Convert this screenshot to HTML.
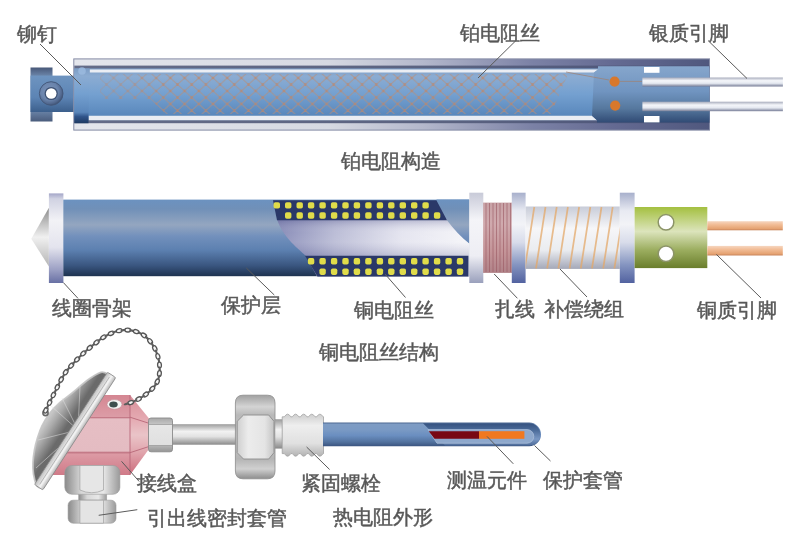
<!DOCTYPE html>
<html><head><meta charset="utf-8">
<style>
html,body{margin:0;padding:0;background:#fff;}
body{width:791px;height:534px;position:relative;overflow:hidden;font-family:"Liberation Serif",serif;}
svg{position:absolute;left:0;top:0;filter:blur(0.45px);}
.t{position:absolute;font-size:20px;line-height:20px;color:#565656;font-weight:normal;-webkit-text-stroke:0.5px #5e5e5e;filter:blur(0.35px);white-space:nowrap;letter-spacing:0;}
</style></head><body>
<svg width="791" height="534" viewBox="0 0 791 534">
<defs>
  <linearGradient id="tOuter" x1="74" y1="0" x2="709" y2="0" gradientUnits="userSpaceOnUse">
    <stop offset="0" stop-color="#e4e6ec"/><stop offset="0.4" stop-color="#d6d9e2"/><stop offset="0.55" stop-color="#b4b8cc"/><stop offset="0.72" stop-color="#7c82a6"/><stop offset="0.85" stop-color="#646a92"/><stop offset="1" stop-color="#50587e"/>
  </linearGradient>
  <linearGradient id="tDark" x1="74" y1="0" x2="709" y2="0" gradientUnits="userSpaceOnUse">
    <stop offset="0" stop-color="#646c88"/><stop offset="0.6" stop-color="#5a6280"/><stop offset="1" stop-color="#4a5278"/>
  </linearGradient>
  <linearGradient id="tBody" x1="0" y1="68.4" x2="0" y2="120.2" gradientUnits="userSpaceOnUse">
    <stop offset="0" stop-color="#7c9cc4"/><stop offset="0.15" stop-color="#8cacd2"/><stop offset="0.5" stop-color="#74a0d0"/><stop offset="0.9" stop-color="#5a88bc"/><stop offset="1" stop-color="#4c74a6"/>
  </linearGradient>
  <linearGradient id="tLeft" x1="0" y1="68.4" x2="0" y2="123.2" gradientUnits="userSpaceOnUse">
    <stop offset="0" stop-color="#7c9cc4"/><stop offset="0.14" stop-color="#8cacd2"/><stop offset="0.46" stop-color="#74a0d0"/><stop offset="0.8" stop-color="#5a86ba"/><stop offset="0.88" stop-color="#30548a"/><stop offset="1" stop-color="#1e3a62"/>
  </linearGradient>
  <linearGradient id="tRight" x1="0" y1="66.2" x2="0" y2="122.6" gradientUnits="userSpaceOnUse">
    <stop offset="0" stop-color="#86a6cc"/><stop offset="0.45" stop-color="#7094c0"/><stop offset="0.75" stop-color="#56789e"/><stop offset="1" stop-color="#304a74"/>
  </linearGradient>
  <linearGradient id="tCap" x1="0" y1="67.5" x2="0" y2="121.5" gradientUnits="userSpaceOnUse">
    <stop offset="0" stop-color="#485878"/><stop offset="0.15" stop-color="#6a84a8"/><stop offset="0.5" stop-color="#6688b4"/><stop offset="0.8" stop-color="#6a84a8"/><stop offset="1" stop-color="#4a5c7c"/>
  </linearGradient>
  <linearGradient id="tShaft" x1="0" y1="0" x2="0" y2="1">
    <stop offset="0" stop-color="#6e94c0"/><stop offset="0.6" stop-color="#5c84b4"/><stop offset="1" stop-color="#3c5f8c"/>
  </linearGradient>
  <radialGradient id="rivet" cx="0.42" cy="0.4" r="0.62">
    <stop offset="0" stop-color="#7a92b8"/><stop offset="0.6" stop-color="#6a84ac"/><stop offset="0.85" stop-color="#52688e"/><stop offset="1" stop-color="#3e5274"/>
  </radialGradient>
  <linearGradient id="wire" x1="0" y1="0" x2="0" y2="1">
    <stop offset="0" stop-color="#a8acbc"/><stop offset="0.35" stop-color="#f4f6fa"/><stop offset="0.65" stop-color="#e4e8f0"/><stop offset="1" stop-color="#767c96"/>
  </linearGradient>
  <pattern id="hatch" width="14.2" height="13" patternUnits="userSpaceOnUse">
    <path d="M-7.1,-6.5 L21.3,19.5 M-7.1,6.5 L7.1,19.5 M7.1,-6.5 L21.3,6.5 M21.3,-6.5 L-7.1,19.5 M7.1,-6.5 L-7.1,6.5 M21.3,6.5 L7.1,19.5" stroke="#b8907c" stroke-width="1.15" stroke-opacity="0.6"/>
    <circle cx="0" cy="0" r="1.4" fill="#c88058" fill-opacity="0.45"/><circle cx="14.2" cy="0" r="1.4" fill="#c88058" fill-opacity="0.45"/><circle cx="0" cy="13" r="1.4" fill="#c88058" fill-opacity="0.45"/><circle cx="14.2" cy="13" r="1.4" fill="#c88058" fill-opacity="0.45"/><circle cx="7.1" cy="6.5" r="1.4" fill="#c88058" fill-opacity="0.45"/>
  </pattern>
  <linearGradient id="hatchFade" x1="100" y1="0" x2="570" y2="0" gradientUnits="userSpaceOnUse">
    <stop offset="0" stop-color="#fff" stop-opacity="0.5"/><stop offset="0.08" stop-color="#fff" stop-opacity="0.75"/><stop offset="0.15" stop-color="#fff" stop-opacity="1"/><stop offset="1" stop-color="#fff" stop-opacity="1"/>
  </linearGradient>
  <mask id="hm"><polygon points="100,74 568,74 551,114 166,114 150,99 100,99" fill="url(#hatchFade)"/></mask>
  <!-- middle -->
  <linearGradient id="mCyl" x1="0" y1="199.6" x2="0" y2="276.2" gradientUnits="userSpaceOnUse">
    <stop offset="0" stop-color="#6c92c0"/><stop offset="0.12" stop-color="#7090b8"/><stop offset="0.33" stop-color="#94a6c0"/><stop offset="0.48" stop-color="#7290bc"/><stop offset="0.66" stop-color="#5c80b0"/><stop offset="0.86" stop-color="#3a5680"/><stop offset="1" stop-color="#1e3250"/>
  </linearGradient>
  <linearGradient id="mCore" x1="277" y1="0" x2="469" y2="0" gradientUnits="userSpaceOnUse">
    <stop offset="0" stop-color="#7c80b0"/><stop offset="0.3" stop-color="#b4b6d2"/><stop offset="0.65" stop-color="#e2e2ee"/><stop offset="1" stop-color="#f4f4f8"/>
  </linearGradient>
  <linearGradient id="mCoreV" x1="0" y1="219" x2="0" y2="257" gradientUnits="userSpaceOnUse">
    <stop offset="0" stop-color="#50548a" stop-opacity="0.35"/><stop offset="0.35" stop-color="#ffffff" stop-opacity="0.1"/><stop offset="0.6" stop-color="#ffffff" stop-opacity="0.15"/><stop offset="1" stop-color="#50548a" stop-opacity="0.25"/>
  </linearGradient>
  <linearGradient id="fl1" x1="0" y1="0" x2="0" y2="1">
    <stop offset="0" stop-color="#a4a6c8"/><stop offset="0.06" stop-color="#d0d2e2"/><stop offset="0.3" stop-color="#f2f2f6"/><stop offset="0.6" stop-color="#e4e4ee"/><stop offset="0.85" stop-color="#9ca0c4"/><stop offset="1" stop-color="#6870a4"/>
  </linearGradient>
  <linearGradient id="fl2" x1="0" y1="0" x2="0" y2="1">
    <stop offset="0" stop-color="#a8b0cc"/><stop offset="0.2" stop-color="#e8eaf2"/><stop offset="0.35" stop-color="#f2f3f7"/><stop offset="0.55" stop-color="#d8dcea"/><stop offset="0.8" stop-color="#8494c0"/><stop offset="1" stop-color="#5262a0"/>
  </linearGradient>
  <linearGradient id="flW" x1="0" y1="0" x2="0" y2="1">
    <stop offset="0" stop-color="#c8cad8"/><stop offset="0.3" stop-color="#f4f4f8"/><stop offset="0.7" stop-color="#eeeef4"/><stop offset="1" stop-color="#9aa0bc"/>
  </linearGradient>
  <linearGradient id="coil" x1="0" y1="0" x2="0" y2="1">
    <stop offset="0" stop-color="#c8a2a6"/><stop offset="0.3" stop-color="#d0aaae"/><stop offset="0.7" stop-color="#c49498"/><stop offset="1" stop-color="#b08288"/>
  </linearGradient>
  <linearGradient id="comp" x1="0" y1="0" x2="0" y2="1">
    <stop offset="0" stop-color="#c8ccd8"/><stop offset="0.35" stop-color="#f6f6f8"/><stop offset="0.7" stop-color="#eaecf0"/><stop offset="1" stop-color="#a4a8b8"/>
  </linearGradient>
  <linearGradient id="green" x1="0" y1="0" x2="0" y2="1">
    <stop offset="0" stop-color="#a4c040"/><stop offset="0.4" stop-color="#dce4bc"/><stop offset="0.7" stop-color="#9cae60"/><stop offset="1" stop-color="#6a7e2c"/>
  </linearGradient>
  <linearGradient id="cu" x1="0" y1="0" x2="0" y2="1">
    <stop offset="0" stop-color="#f6d6c0"/><stop offset="0.35" stop-color="#f2be98"/><stop offset="0.8" stop-color="#e6a474"/><stop offset="1" stop-color="#c8845a"/>
  </linearGradient>
  <linearGradient id="cone" x1="0" y1="0" x2="0" y2="1">
    <stop offset="0" stop-color="#8c8c8c"/><stop offset="0.5" stop-color="#f0f0f0"/><stop offset="1" stop-color="#b4b4b4"/>
  </linearGradient>
  <!-- bottom -->
  <linearGradient id="silver" x1="0" y1="0" x2="0" y2="1">
    <stop offset="0" stop-color="#9c9c9c"/><stop offset="0.35" stop-color="#f2f2f2"/><stop offset="0.6" stop-color="#e2e2e2"/><stop offset="1" stop-color="#8a8a8a"/>
  </linearGradient>
  <linearGradient id="silverH" x1="0" y1="0" x2="1" y2="0">
    <stop offset="0" stop-color="#8a8a8a"/><stop offset="0.3" stop-color="#d8d8d8"/><stop offset="0.7" stop-color="#e8e8e8"/><stop offset="1" stop-color="#9a9a9a"/>
  </linearGradient>
  <linearGradient id="nutV" x1="0" y1="395" x2="0" y2="479" gradientUnits="userSpaceOnUse">
    <stop offset="0" stop-color="#a0a0a0"/><stop offset="0.14" stop-color="#d4d4d4"/><stop offset="0.24" stop-color="#b8b8b8"/><stop offset="0.5" stop-color="#c8c8c8"/><stop offset="0.76" stop-color="#b4b4b4"/><stop offset="0.88" stop-color="#d0d0d0"/><stop offset="1" stop-color="#8c8c8c"/>
  </linearGradient>
  <linearGradient id="nutMid" x1="0" y1="0" x2="1" y2="0">
    <stop offset="0" stop-color="#cfcfcf"/><stop offset="0.3" stop-color="#ececec"/><stop offset="0.75" stop-color="#e4e4e4"/><stop offset="1" stop-color="#c4c4c4"/>
  </linearGradient>
  <linearGradient id="thread" x1="0" y1="412" x2="0" y2="457" gradientUnits="userSpaceOnUse">
    <stop offset="0" stop-color="#c8c8c8"/><stop offset="0.3" stop-color="#eeeeee"/><stop offset="0.7" stop-color="#e0e0e0"/><stop offset="1" stop-color="#b0b0b0"/>
  </linearGradient>
  <linearGradient id="fitG" x1="0" y1="418" x2="0" y2="452" gradientUnits="userSpaceOnUse">
    <stop offset="0" stop-color="#a8a8a8"/><stop offset="0.18" stop-color="#c4c4c4"/><stop offset="0.22" stop-color="#e6e6e6"/><stop offset="0.78" stop-color="#e0e0e0"/><stop offset="0.82" stop-color="#b4b4b4"/><stop offset="1" stop-color="#949494"/>
  </linearGradient>
  <linearGradient id="bTube" x1="0" y1="422.6" x2="0" y2="446.2" gradientUnits="userSpaceOnUse">
    <stop offset="0" stop-color="#4a6690"/><stop offset="0.07" stop-color="#7e9cc4"/><stop offset="0.3" stop-color="#7a9ac4"/><stop offset="0.55" stop-color="#6a8ec0"/><stop offset="0.82" stop-color="#52729e"/><stop offset="1" stop-color="#3a5480"/>
  </linearGradient>
  <linearGradient id="bCut" x1="0" y1="423" x2="0" y2="446" gradientUnits="userSpaceOnUse">
    <stop offset="0" stop-color="#34507e"/><stop offset="0.3" stop-color="#4a6a98"/><stop offset="0.7" stop-color="#7a98c4"/><stop offset="1" stop-color="#4a6896"/>
  </linearGradient>
  <linearGradient id="pinkF" x1="0" y1="395" x2="0" y2="475" gradientUnits="userSpaceOnUse">
    <stop offset="0" stop-color="#d48692"/><stop offset="0.27" stop-color="#dc9ca6"/><stop offset="0.28" stop-color="#c27684"/><stop offset="0.3" stop-color="#e6bec4"/><stop offset="0.7" stop-color="#e4bcc2"/><stop offset="0.72" stop-color="#c27684"/><stop offset="0.74" stop-color="#dc9aa4"/><stop offset="1" stop-color="#d07a88"/>
  </linearGradient>
  <linearGradient id="pinkR" x1="0" y1="395" x2="0" y2="475" gradientUnits="userSpaceOnUse">
    <stop offset="0" stop-color="#d8909a"/><stop offset="0.28" stop-color="#e4a8b0"/><stop offset="0.5" stop-color="#eac4c8"/><stop offset="0.72" stop-color="#e0a4ac"/><stop offset="1" stop-color="#cc6c7c"/>
  </linearGradient>
  <linearGradient id="dome" x1="75" y1="431" x2="48" y2="413.5" gradientUnits="userSpaceOnUse">
    <stop offset="0" stop-color="#6c6c6c"/><stop offset="0.3" stop-color="#6a6a6a"/><stop offset="0.7" stop-color="#aaaaaa"/><stop offset="1" stop-color="#d2d2d2"/>
  </linearGradient>
  <linearGradient id="rim" x1="0" y1="-4.5" x2="0" y2="4.5" gradientUnits="userSpaceOnUse">
    <stop offset="0" stop-color="#b8b8b8"/><stop offset="0.45" stop-color="#f4f4f4"/><stop offset="1" stop-color="#c8c8c8"/>
  </linearGradient>
<clipPath id="compClip"><rect x="525.6" y="206.5" width="94.2" height="62.4"/></clipPath>
</defs>

<!-- ============ TOP DIAGRAM ============ -->
<!-- rivet cap -->
<rect x="30.5" y="67.5" width="22" height="54" fill="url(#tCap)"/>
<rect x="30.5" y="75.6" width="44" height="36.4" fill="url(#tShaft)"/>
<circle cx="51.2" cy="93.5" r="11.8" fill="url(#rivet)" stroke="#44587a" stroke-width="1"/>
<circle cx="51.2" cy="93.5" r="6.6" fill="#3e5274"/>
<circle cx="51.2" cy="93.5" r="5.3" fill="#fff"/>
<!-- outer tube -->
<rect x="73.8" y="58.9" width="635.7" height="71.2" fill="url(#tOuter)" stroke="#868ca6" stroke-width="1"/>
<rect x="74.3" y="65.6" width="635" height="57.6" fill="url(#tDark)"/>
<rect x="74.3" y="68.4" width="635" height="51.8" fill="url(#tBody)"/>
<!-- white strips -->
<path d="M89.6,69.4 L598,69.4 L594,72.6 L89.6,72.6 Z" fill="#eaedf3"/>
<path d="M88.5,115.7 L592,115.7 L597,120.2 L88.5,120.2 Z" fill="#eaedf3"/>
<path d="M74.3,68.4 L89.6,68.4 L89.6,72.6 L88.5,115.7 L88.5,123.2 L74.3,123.2 Z" fill="url(#tLeft)"/>
<circle cx="82" cy="71" r="3.8" fill="#9cbce0" opacity="0.8"/>
<rect x="100" y="74" width="470" height="40" fill="url(#hatch)" mask="url(#hm)"/>
<!-- right inner -->
<path d="M594,72.6 L598,69.4 L598,66.2 L709.3,66.2 L709.3,122.6 L597,122.6 L597,120.2 L592,115.7 Z" fill="url(#tRight)"/>
<rect x="644" y="67" width="15.5" height="5.8" fill="#fff"/>
<rect x="644" y="116" width="15.5" height="6.4" fill="#fff"/>
<path d="M566,72 L609,80" stroke="#a08070" stroke-width="1" fill="none" opacity="0.7"/>
<circle cx="614.6" cy="81.6" r="5.1" fill="#d8782c"/>
<circle cx="615.2" cy="105.6" r="5.1" fill="#d8782c"/>
<line x1="620" y1="81.4" x2="642" y2="81.4" stroke="#a08070" stroke-width="1" opacity="0.7"/>
<!-- wires -->
<rect x="642.4" y="77.5" width="140.5" height="9" fill="url(#wire)"/>
<rect x="642.4" y="101.7" width="140.5" height="9.5" fill="url(#wire)"/>

<!-- ============ MIDDLE DIAGRAM ============ -->
<polygon points="31.3,238.8 48.9,207.8 48.9,266.6" fill="url(#cone)"/>
<rect x="48.9" y="193.4" width="14.5" height="89.6" fill="url(#fl1)"/>
<!-- blue cylinder -->
<rect x="63.3" y="199.6" width="406" height="76.6" fill="url(#mCyl)"/>
<!-- cutaway core -->
<path d="M277,219 L447,219 Q458,234 469.3,243 L469.3,276.2 L316.9,276.2 L306,256 C300,250 283,238 277,219 Z" fill="url(#mCore)"/>
<path d="M277,219 L447,219 Q458,234 469.3,243 L469.3,276.2 L316.9,276.2 L306,256 C300,250 283,238 277,219 Z" fill="url(#mCoreV)"/>
<path d="M436.4,199.6 L469.3,199.6 L469.3,243.5 Q458,235 447,220.3 Z" fill="url(#mCyl)"/>
<path d="M273,200.3 L436.4,200.3 L447,220.3 L277,220.3 Z" fill="#2a3868"/>
<path d="M305,255.8 L468.4,255.8 L468.4,276.4 L317.5,276.4 Z" fill="#2a3868"/>
<g fill="#e0dc4a"><rect x="273.6" y="202.2" width="6.4" height="6.4" rx="1.8"/><rect x="285.0" y="202.2" width="6.4" height="6.4" rx="1.8"/><rect x="296.5" y="202.2" width="6.4" height="6.4" rx="1.8"/><rect x="307.9" y="202.2" width="6.4" height="6.4" rx="1.8"/><rect x="319.4" y="202.2" width="6.4" height="6.4" rx="1.8"/><rect x="330.9" y="202.2" width="6.4" height="6.4" rx="1.8"/><rect x="342.3" y="202.2" width="6.4" height="6.4" rx="1.8"/><rect x="353.7" y="202.2" width="6.4" height="6.4" rx="1.8"/><rect x="365.2" y="202.2" width="6.4" height="6.4" rx="1.8"/><rect x="376.7" y="202.2" width="6.4" height="6.4" rx="1.8"/><rect x="388.1" y="202.2" width="6.4" height="6.4" rx="1.8"/><rect x="399.6" y="202.2" width="6.4" height="6.4" rx="1.8"/><rect x="411.0" y="202.2" width="6.4" height="6.4" rx="1.8"/><rect x="422.4" y="202.2" width="6.4" height="6.4" rx="1.8"/><rect x="285.0" y="212.3" width="6.4" height="6.4" rx="1.8"/><rect x="296.5" y="212.3" width="6.4" height="6.4" rx="1.8"/><rect x="307.9" y="212.3" width="6.4" height="6.4" rx="1.8"/><rect x="319.4" y="212.3" width="6.4" height="6.4" rx="1.8"/><rect x="330.9" y="212.3" width="6.4" height="6.4" rx="1.8"/><rect x="342.3" y="212.3" width="6.4" height="6.4" rx="1.8"/><rect x="353.7" y="212.3" width="6.4" height="6.4" rx="1.8"/><rect x="365.2" y="212.3" width="6.4" height="6.4" rx="1.8"/><rect x="376.7" y="212.3" width="6.4" height="6.4" rx="1.8"/><rect x="388.1" y="212.3" width="6.4" height="6.4" rx="1.8"/><rect x="399.6" y="212.3" width="6.4" height="6.4" rx="1.8"/><rect x="411.0" y="212.3" width="6.4" height="6.4" rx="1.8"/><rect x="422.4" y="212.3" width="6.4" height="6.4" rx="1.8"/><rect x="433.9" y="212.3" width="6.4" height="6.4" rx="1.8"/><rect x="307.9" y="258.1" width="6.4" height="6.4" rx="1.8"/><rect x="319.4" y="258.1" width="6.4" height="6.4" rx="1.8"/><rect x="330.9" y="258.1" width="6.4" height="6.4" rx="1.8"/><rect x="342.3" y="258.1" width="6.4" height="6.4" rx="1.8"/><rect x="353.7" y="258.1" width="6.4" height="6.4" rx="1.8"/><rect x="365.2" y="258.1" width="6.4" height="6.4" rx="1.8"/><rect x="376.7" y="258.1" width="6.4" height="6.4" rx="1.8"/><rect x="388.1" y="258.1" width="6.4" height="6.4" rx="1.8"/><rect x="399.6" y="258.1" width="6.4" height="6.4" rx="1.8"/><rect x="411.0" y="258.1" width="6.4" height="6.4" rx="1.8"/><rect x="422.4" y="258.1" width="6.4" height="6.4" rx="1.8"/><rect x="433.9" y="258.1" width="6.4" height="6.4" rx="1.8"/><rect x="445.4" y="258.1" width="6.4" height="6.4" rx="1.8"/><rect x="456.8" y="258.1" width="6.4" height="6.4" rx="1.8"/><rect x="319.4" y="268.5" width="6.4" height="6.4" rx="1.8"/><rect x="330.9" y="268.5" width="6.4" height="6.4" rx="1.8"/><rect x="342.3" y="268.5" width="6.4" height="6.4" rx="1.8"/><rect x="353.7" y="268.5" width="6.4" height="6.4" rx="1.8"/><rect x="365.2" y="268.5" width="6.4" height="6.4" rx="1.8"/><rect x="376.7" y="268.5" width="6.4" height="6.4" rx="1.8"/><rect x="388.1" y="268.5" width="6.4" height="6.4" rx="1.8"/><rect x="399.6" y="268.5" width="6.4" height="6.4" rx="1.8"/><rect x="411.0" y="268.5" width="6.4" height="6.4" rx="1.8"/><rect x="422.4" y="268.5" width="6.4" height="6.4" rx="1.8"/><rect x="433.9" y="268.5" width="6.4" height="6.4" rx="1.8"/><rect x="445.4" y="268.5" width="6.4" height="6.4" rx="1.8"/><rect x="456.8" y="268.5" width="6.4" height="6.4" rx="1.8"/>
</g>
<!-- flanges & coils -->
<rect x="469.3" y="192.7" width="14" height="90.3" fill="url(#flW)"/>
<rect x="483.1" y="202.6" width="29" height="70.3" fill="url(#coil)"/>
<g stroke="#9a5862" stroke-width="1" opacity="0.6">
<line x1="486" y1="203" x2="486" y2="272"/><line x1="489.5" y1="203" x2="489.5" y2="272"/><line x1="493" y1="203" x2="493" y2="272"/><line x1="496.5" y1="203" x2="496.5" y2="272"/><line x1="500" y1="203" x2="500" y2="272"/><line x1="503.5" y1="203" x2="503.5" y2="272"/><line x1="507" y1="203" x2="507" y2="272"/><line x1="510.5" y1="203" x2="510.5" y2="272"/>
</g>
<rect x="511.8" y="192.7" width="13.8" height="90.3" fill="url(#fl2)"/>
<rect x="525.6" y="206.5" width="94.2" height="62.4" fill="url(#comp)"/>
<g stroke="#e4a868" stroke-width="1.7" opacity="0.75" clip-path="url(#compClip)"><line x1="523.1" y1="207" x2="513.6" y2="268.5"/><line x1="534.3" y1="207" x2="524.8" y2="268.5"/><line x1="545.5" y1="207" x2="536.0" y2="268.5"/><line x1="556.7" y1="207" x2="547.2" y2="268.5"/><line x1="567.9" y1="207" x2="558.4" y2="268.5"/><line x1="579.1" y1="207" x2="569.6" y2="268.5"/><line x1="590.3" y1="207" x2="580.8" y2="268.5"/><line x1="601.5" y1="207" x2="592.0" y2="268.5"/><line x1="612.7" y1="207" x2="603.2" y2="268.5"/><line x1="623.9" y1="207" x2="614.4" y2="268.5"/></g>
<rect x="619.8" y="192.7" width="14.8" height="90.3" fill="url(#fl2)"/>
<rect x="634.6" y="207" width="72.7" height="61.1" fill="url(#green)"/>
<circle cx="666" cy="222.3" r="7.8" fill="#fff" stroke="#8c9468" stroke-width="1.5"/>
<circle cx="666" cy="253.7" r="7.8" fill="#fff" stroke="#8c9468" stroke-width="1.5"/>
<rect x="707.3" y="221.2" width="75.5" height="9.1" fill="url(#cu)"/>
<rect x="707.3" y="245.9" width="75.5" height="9.6" fill="url(#cu)"/>

<!-- ============ BOTTOM DIAGRAM ============ -->
<!-- pink box -->
<polygon points="103,395 130,395 130,475 50.5,475" fill="url(#pinkF)"/>
<polygon points="130,395 149,418.5 149,449 130,475" fill="url(#pinkR)"/>
<line x1="130" y1="395" x2="130" y2="475" stroke="#b86878" stroke-width="0.9"/>
<line x1="130" y1="417.2" x2="149" y2="423.3" stroke="#b86878" stroke-width="0.9"/>
<line x1="130" y1="452.7" x2="149" y2="446.5" stroke="#b86878" stroke-width="0.9"/>
<ellipse cx="114.5" cy="404.4" rx="7.5" ry="4.8" fill="#f4f4f4" stroke="#c08890" stroke-width="0.6"/>
<ellipse cx="113.5" cy="404.6" rx="4.2" ry="3" fill="#3e4e4e"/>
<!-- bottom nuts -->
<rect x="64.8" y="465.5" width="55.1" height="28.8" rx="7" fill="url(#silverH)" stroke="#9a9a9a" stroke-width="0.6"/>
<path d="M79.9,465.5 L103.5,465.5 L103.5,490 Q91.7,495.5 79.9,490 Z" fill="#e6e6e6" stroke="#a0a0a0" stroke-width="0.7"/>
<rect x="78.6" y="494.3" width="28.2" height="5.9" fill="url(#silverH)" stroke="#a8a8a8" stroke-width="0.5"/>
<rect x="68.1" y="500.2" width="47.9" height="23" rx="5" fill="url(#silverH)" stroke="#9a9a9a" stroke-width="0.6"/>
<path d="M79.9,500.2 L103.5,500.2 L103.5,523.2 L79.9,523.2 Z" fill="#e4e4e4" stroke="#a0a0a0" stroke-width="0.7"/>
<!-- lid -->
<path d="M109,374.5 C107.6,374.1 104.5,371.3 100.8,372.3 C97.1,373.3 91.5,377.2 87,380.5 C82.5,383.8 78.2,388.1 73.7,391.8 C69.2,395.5 64.0,398.9 60,402.5 C56.0,406.1 52.4,409.8 49.4,413.7 C46.4,417.6 44.0,421.9 42,426 C40.0,430.1 38.8,434.0 37.5,438 C36.2,442.0 35.2,445.9 34.5,450 C33.8,454.1 33.2,458.4 33,462.4 C32.8,466.4 32.9,470.2 33.5,474 C34.1,477.8 35.4,482.7 36.5,485 C37.6,487.3 39.4,487.5 40,488 Z" fill="url(#dome)"/>
<path d="M109,374.5 C107.6,374.1 104.5,371.3 100.8,372.3 C97.1,373.3 91.5,377.2 87,380.5 C82.5,383.8 78.2,388.1 73.7,391.8 C69.2,395.5 64.0,398.9 60,402.5 C56.0,406.1 52.4,409.8 49.4,413.7 C46.4,417.6 44.0,421.9 42,426 C40.0,430.1 38.8,434.0 37.5,438 C36.2,442.0 35.2,445.9 34.5,450 C33.8,454.1 33.2,458.4 33,462.4 C32.8,466.4 32.9,470.2 33.5,474 C34.1,477.8 35.4,482.7 36.5,485 C37.6,487.3 39.4,487.5 40,488" fill="none" stroke="#c4c4c4" stroke-width="1.8" opacity="0.9"/>
<g stroke="#e4e4e4" stroke-width="0.9" opacity="0.55" fill="none">
<path d="M78,430 L50,405"/><path d="M78,430 L38,440"/><path d="M78,430 L36,468"/><path d="M78,430 L80,386"/><path d="M78,430 L62,398"/>
</g>
<g transform="translate(111.5,376) rotate(123)">
  <rect x="-1" y="-4.5" width="134" height="10" rx="1.5" fill="url(#rim)" stroke="#8a8a8a" stroke-width="0.8"/>
  <line x1="2" y1="1.2" x2="130" y2="1.2" stroke="#a8a8a8" stroke-width="0.7"/>
</g>
<circle cx="45.5" cy="413" r="2.6" fill="none" stroke="#6a6a6a" stroke-width="1.6"/>
<!-- chain -->
<g><ellipse cx="45.8" cy="410.3" rx="2.9" ry="1.9" transform="rotate(-64 45.8 410.3)" fill="#f6f6f6" stroke="#555" stroke-width="1.3"/><ellipse cx="47.7" cy="406.4" rx="3.1" ry="1.1" transform="rotate(-64 47.7 406.4)" fill="#5e5e5e"/><ellipse cx="49.6" cy="402.6" rx="2.9" ry="1.9" transform="rotate(-64 49.6 402.6)" fill="#f6f6f6" stroke="#555" stroke-width="1.3"/><ellipse cx="51.5" cy="398.7" rx="3.1" ry="1.1" transform="rotate(-63 51.5 398.7)" fill="#5e5e5e"/><ellipse cx="53.4" cy="394.9" rx="2.9" ry="1.9" transform="rotate(-63 53.4 394.9)" fill="#f6f6f6" stroke="#555" stroke-width="1.3"/><ellipse cx="55.4" cy="391.1" rx="3.1" ry="1.1" transform="rotate(-63 55.4 391.1)" fill="#5e5e5e"/><ellipse cx="57.3" cy="387.2" rx="2.9" ry="1.9" transform="rotate(-64 57.3 387.2)" fill="#f6f6f6" stroke="#555" stroke-width="1.3"/><ellipse cx="59.2" cy="383.4" rx="3.1" ry="1.1" transform="rotate(-63 59.2 383.4)" fill="#5e5e5e"/><ellipse cx="61.2" cy="379.5" rx="2.9" ry="1.9" transform="rotate(-61 61.2 379.5)" fill="#f6f6f6" stroke="#555" stroke-width="1.3"/><ellipse cx="63.4" cy="375.8" rx="3.1" ry="1.1" transform="rotate(-58 63.4 375.8)" fill="#5e5e5e"/><ellipse cx="65.7" cy="372.2" rx="2.9" ry="1.9" transform="rotate(-54 65.7 372.2)" fill="#f6f6f6" stroke="#555" stroke-width="1.3"/><ellipse cx="68.4" cy="368.8" rx="3.1" ry="1.1" transform="rotate(-51 68.4 368.8)" fill="#5e5e5e"/><ellipse cx="71.2" cy="365.6" rx="2.9" ry="1.9" transform="rotate(-48 71.2 365.6)" fill="#f6f6f6" stroke="#555" stroke-width="1.3"/><ellipse cx="74.1" cy="362.4" rx="3.1" ry="1.1" transform="rotate(-46 74.1 362.4)" fill="#5e5e5e"/><ellipse cx="77.1" cy="359.4" rx="2.9" ry="1.9" transform="rotate(-45 77.1 359.4)" fill="#f6f6f6" stroke="#555" stroke-width="1.3"/><ellipse cx="80.2" cy="356.3" rx="3.1" ry="1.1" transform="rotate(-44 80.2 356.3)" fill="#5e5e5e"/><ellipse cx="83.3" cy="353.4" rx="2.9" ry="1.9" transform="rotate(-42 83.3 353.4)" fill="#f6f6f6" stroke="#555" stroke-width="1.3"/><ellipse cx="86.5" cy="350.5" rx="3.1" ry="1.1" transform="rotate(-41 86.5 350.5)" fill="#5e5e5e"/><ellipse cx="89.8" cy="347.8" rx="2.9" ry="1.9" transform="rotate(-40 89.8 347.8)" fill="#f6f6f6" stroke="#555" stroke-width="1.3"/><ellipse cx="93.1" cy="345.0" rx="3.1" ry="1.1" transform="rotate(-39 93.1 345.0)" fill="#5e5e5e"/><ellipse cx="96.5" cy="342.4" rx="2.9" ry="1.9" transform="rotate(-39 96.5 342.4)" fill="#f6f6f6" stroke="#555" stroke-width="1.3"/><ellipse cx="99.9" cy="339.7" rx="3.1" ry="1.1" transform="rotate(-37 99.9 339.7)" fill="#5e5e5e"/><ellipse cx="103.4" cy="337.3" rx="2.9" ry="1.9" transform="rotate(-32 103.4 337.3)" fill="#f6f6f6" stroke="#555" stroke-width="1.3"/><ellipse cx="107.2" cy="335.2" rx="3.1" ry="1.1" transform="rotate(-27 107.2 335.2)" fill="#5e5e5e"/><ellipse cx="111.1" cy="333.3" rx="2.9" ry="1.9" transform="rotate(-23 111.1 333.3)" fill="#f6f6f6" stroke="#555" stroke-width="1.3"/><ellipse cx="115.1" cy="331.8" rx="3.1" ry="1.1" transform="rotate(-18 115.1 331.8)" fill="#5e5e5e"/><ellipse cx="119.2" cy="330.7" rx="2.9" ry="1.9" transform="rotate(-12 119.2 330.7)" fill="#f6f6f6" stroke="#555" stroke-width="1.3"/><ellipse cx="123.5" cy="330.1" rx="3.1" ry="1.1" transform="rotate(-4 123.5 330.1)" fill="#5e5e5e"/><ellipse cx="127.8" cy="330.1" rx="2.9" ry="1.9" transform="rotate(3 127.8 330.1)" fill="#f6f6f6" stroke="#555" stroke-width="1.3"/><ellipse cx="132.1" cy="330.6" rx="3.1" ry="1.1" transform="rotate(11 132.1 330.6)" fill="#5e5e5e"/><ellipse cx="136.2" cy="331.6" rx="2.9" ry="1.9" transform="rotate(18 136.2 331.6)" fill="#f6f6f6" stroke="#555" stroke-width="1.3"/><ellipse cx="140.2" cy="333.2" rx="3.1" ry="1.1" transform="rotate(26 140.2 333.2)" fill="#5e5e5e"/><ellipse cx="143.9" cy="335.4" rx="2.9" ry="1.9" transform="rotate(35 143.9 335.4)" fill="#f6f6f6" stroke="#555" stroke-width="1.3"/><ellipse cx="147.2" cy="338.1" rx="3.1" ry="1.1" transform="rotate(44 147.2 338.1)" fill="#5e5e5e"/><ellipse cx="150.1" cy="341.3" rx="2.9" ry="1.9" transform="rotate(51 150.1 341.3)" fill="#f6f6f6" stroke="#555" stroke-width="1.3"/><ellipse cx="152.6" cy="344.8" rx="3.1" ry="1.1" transform="rotate(57 152.6 344.8)" fill="#5e5e5e"/><ellipse cx="154.8" cy="348.5" rx="2.9" ry="1.9" transform="rotate(63 154.8 348.5)" fill="#f6f6f6" stroke="#555" stroke-width="1.3"/><ellipse cx="156.5" cy="352.5" rx="3.1" ry="1.1" transform="rotate(69 156.5 352.5)" fill="#5e5e5e"/><ellipse cx="157.9" cy="356.5" rx="2.9" ry="1.9" transform="rotate(74 157.9 356.5)" fill="#f6f6f6" stroke="#555" stroke-width="1.3"/><ellipse cx="158.9" cy="360.7" rx="3.1" ry="1.1" transform="rotate(79 158.9 360.7)" fill="#5e5e5e"/><ellipse cx="159.5" cy="365.0" rx="2.9" ry="1.9" transform="rotate(85 159.5 365.0)" fill="#f6f6f6" stroke="#555" stroke-width="1.3"/><ellipse cx="159.7" cy="369.3" rx="3.1" ry="1.1" transform="rotate(90 159.7 369.3)" fill="#5e5e5e"/><ellipse cx="159.4" cy="373.6" rx="2.9" ry="1.9" transform="rotate(97 159.4 373.6)" fill="#f6f6f6" stroke="#555" stroke-width="1.3"/><ellipse cx="158.7" cy="377.8" rx="3.1" ry="1.1" transform="rotate(104 158.7 377.8)" fill="#5e5e5e"/><ellipse cx="157.2" cy="381.8" rx="2.9" ry="1.9" transform="rotate(115 157.2 381.8)" fill="#f6f6f6" stroke="#555" stroke-width="1.3"/><ellipse cx="155.0" cy="385.5" rx="3.1" ry="1.1" transform="rotate(126 155.0 385.5)" fill="#5e5e5e"/><ellipse cx="152.2" cy="388.8" rx="2.9" ry="1.9" transform="rotate(134 152.2 388.8)" fill="#f6f6f6" stroke="#555" stroke-width="1.3"/><ellipse cx="149.2" cy="391.8" rx="3.1" ry="1.1" transform="rotate(138 149.2 391.8)" fill="#5e5e5e"/><ellipse cx="145.8" cy="394.5" rx="2.9" ry="1.9" transform="rotate(143 145.8 394.5)" fill="#f6f6f6" stroke="#555" stroke-width="1.3"/><ellipse cx="142.3" cy="396.9" rx="3.1" ry="1.1" transform="rotate(147 142.3 396.9)" fill="#5e5e5e"/><ellipse cx="138.6" cy="399.1" rx="2.9" ry="1.9" transform="rotate(151 138.6 399.1)" fill="#f6f6f6" stroke="#555" stroke-width="1.3"/><ellipse cx="134.7" cy="401.0" rx="3.1" ry="1.1" transform="rotate(157 134.7 401.0)" fill="#5e5e5e"/><ellipse cx="130.7" cy="402.6" rx="2.9" ry="1.9" transform="rotate(161 130.7 402.6)" fill="#f6f6f6" stroke="#555" stroke-width="1.3"/><ellipse cx="126.6" cy="403.9" rx="3.1" ry="1.1" transform="rotate(163 126.6 403.9)" fill="#5e5e5e"/></g>
<!-- right fitting -->
<rect x="172" y="424.2" width="64" height="20.5" fill="url(#silver)"/>
<rect x="148.5" y="418" width="24" height="33.8" rx="2.5" fill="url(#fitG)" stroke="#8a8a8a" stroke-width="0.9"/>
<line x1="149" y1="424.5" x2="172" y2="424.5" stroke="#a0a0a0" stroke-width="0.8"/><line x1="149" y1="445.5" x2="172" y2="445.5" stroke="#a0a0a0" stroke-width="0.8"/>

<!-- big hex nut -->
<path d="M235.4,403 Q235.4,395.2 243,395.2 L267.5,395.2 Q275,395.2 275,403 L275,471 Q275,478.8 267.5,478.8 L243,478.8 Q235.4,478.8 235.4,471 Z" fill="url(#nutV)" stroke="#8a8a8a" stroke-width="0.8"/>
<path d="M237.2,421.3 L243.5,415 L268.7,415 L274,421.3 L274,452.7 L268.7,459 L243.5,459 L237.2,452.7 Z" fill="url(#nutMid)" stroke="#8c8c8c" stroke-width="0.9"/>
<rect x="275" y="419.5" width="7.5" height="28.8" fill="url(#silver)" stroke="#999" stroke-width="0.5"/>
<!-- threaded -->
<path d="M282.2,416.8 L284.4,416.8 Q287.6,411.5 290.8,416.8 L292.4,416.8 Q295.6,411.5 298.8,416.8 L300.5,416.8 Q303.7,411.5 306.9,416.8 L308.6,416.8 Q311.8,411.5 315.0,416.8 L316.7,416.8 Q319.9,411.5 323.1,416.8 L323.5,416.8 L323.5,453.6 L323.1,453.6 Q319.9,458.9 316.7,453.6 L315.0,453.6 Q311.8,458.9 308.6,453.6 L306.9,453.6 Q303.7,458.9 300.5,453.6 L298.8,453.6 Q295.6,458.9 292.4,453.6 L290.8,453.6 Q287.6,458.9 284.4,453.6 L282.2,453.6 Z" fill="url(#thread)" stroke="#9a9a9a" stroke-width="0.7"/>
<!-- blue tube -->
<path d="M323,422.6 L529.2,422.6 A11.8,11.8 0 0 1 529.2,446.2 L323,446.2 Z" fill="url(#bTube)"/>
<path d="M423,423.2 L529.2,423.2 A11.2,11.2 0 0 1 529.2,445.6 L445,445.6 Z" fill="url(#bCut)"/>
<path d="M428,429.6 L527,429.6 A6.8,6.8 0 0 1 527,443.2 L437,443.2 Z" fill="#8ea8cc" stroke="#a8bcd8" stroke-width="0.8"/>
<path d="M428.7,431.2 L479,431.2 L479,438.8 L434.5,438.8 Z" fill="#780814"/>
<rect x="479" y="431.2" width="45.4" height="7.6" fill="#f07820"/>
<!-- ============ LEADER LINES ============ -->
<g stroke="#5a5a5a" stroke-width="1" fill="none">
<line x1="40" y1="44" x2="81" y2="85"/>
<line x1="516" y1="40.5" x2="478" y2="78"/>
<line x1="708" y1="40.5" x2="747" y2="78.5"/>
<line x1="63.4" y1="282.6" x2="78" y2="298.4"/>
<line x1="246.3" y1="268" x2="274.3" y2="295"/>
<line x1="385" y1="274" x2="405.5" y2="297.5"/>
<line x1="494.2" y1="274" x2="517.4" y2="298.3"/>
<line x1="560" y1="269" x2="587" y2="297"/>
<line x1="716.4" y1="254.4" x2="761" y2="298"/>
<line x1="121.5" y1="461.3" x2="139.2" y2="481.5"/>
<line x1="98.7" y1="515.3" x2="137.3" y2="509.7"/>
<line x1="306.6" y1="447" x2="329.6" y2="469.5"/>
<line x1="487" y1="436.4" x2="513.3" y2="463.8"/>
<line x1="534.5" y1="445.5" x2="550.5" y2="461"/>
</g>
</svg>

<div class="t" style="left:17px;top:24px">铆钉</div>
<div class="t" style="left:460px;top:22.5px">铂电阻丝</div>
<div class="t" style="left:649px;top:22.5px">银质引脚</div>
<div class="t" style="left:340.5px;top:151px">铂电阻构造</div>
<div class="t" style="left:52px;top:298px">线圈骨架</div>
<div class="t" style="left:220.5px;top:295px">保护层</div>
<div class="t" style="left:354px;top:299.5px">铜电阻丝</div>
<div class="t" style="left:495px;top:299px">扎线</div>
<div class="t" style="left:543.5px;top:299px">补偿绕组</div>
<div class="t" style="left:697px;top:299.5px">铜质引脚</div>
<div class="t" style="left:318.5px;top:341.5px">铜电阻丝结构</div>
<div class="t" style="left:137px;top:472.5px">接线盒</div>
<div class="t" style="left:147px;top:508px">引出线密封套管</div>
<div class="t" style="left:300.5px;top:473px">紧固螺栓</div>
<div class="t" style="left:333px;top:507px">热电阻外形</div>
<div class="t" style="left:447px;top:470px">测温元件</div>
<div class="t" style="left:543px;top:470px">保护套管</div>
</body></html>
